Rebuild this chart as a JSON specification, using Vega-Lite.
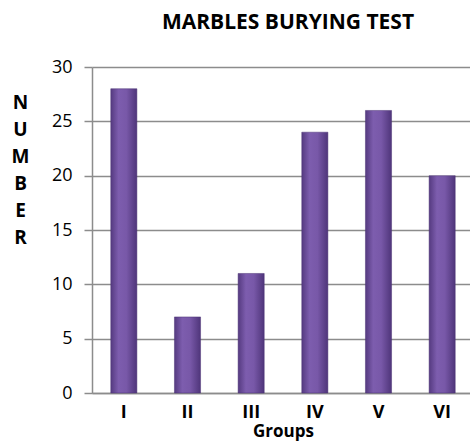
{
  "$schema": "https://vega.github.io/schema/vega-lite/v6.json",
  "width": 382,
  "height": 326,
  "autosize": {"type": "none"},
  "padding": {"left": 92, "top": 67, "right": 0, "bottom": 51},
  "background": "white",
  "title": {
    "text": "MARBLES BURYING TEST",
    "font": "Open Sans",
    "fontSize": 21,
    "fontWeight": "bold",
    "color": "#000000",
    "anchor": "middle",
    "offset": 25,
    "dx": 5
  },
  "data": {
    "values": [
      {"group": "I", "value": 28},
      {"group": "II", "value": 7},
      {"group": "III", "value": 11},
      {"group": "IV", "value": 24},
      {"group": "V", "value": 26},
      {"group": "VI", "value": 20}
    ]
  },
  "mark": {
    "type": "bar",
    "color": {
      "gradient": "linear",
      "x1": 0, "y1": 0, "x2": 1, "y2": 0,
      "stops": [
        {"offset": 0, "color": "#553a80"},
        {"offset": 0.3, "color": "#7d5dae"},
        {"offset": 0.6, "color": "#7858a8"},
        {"offset": 1, "color": "#4f357a"}
      ]
    },
    "stroke": "#4a3275",
    "strokeWidth": 0.5
  },
  "encoding": {
    "x": {
      "field": "group",
      "type": "nominal",
      "sort": null,
      "scale": {"paddingInner": 0.59, "paddingOuter": 0.295},
      "axis": {
        "title": "Groups",
        "titleFont": "Open Sans",
        "titleFontSize": 17,
        "titleFontWeight": "bold",
        "titleColor": "#000000",
        "titlePadding": 2,
        "labelAngle": 0,
        "labelFont": "Open Sans",
        "labelFontSize": 18,
        "labelFontWeight": "bold",
        "labelColor": "#000000",
        "labelPadding": 10,
        "ticks": false,
        "domainColor": "#8c8c8c",
        "domainWidth": 1.5
      }
    },
    "y": {
      "field": "value",
      "type": "quantitative",
      "scale": {"domain": [0, 30]},
      "axis": {
        "values": [0, 5, 10, 15, 20, 25, 30],
        "title": ["N", "U", "M", "B", "E", "R"],
        "titleAngle": 0,
        "titleAlign": "center",
        "titleBaseline": "top",
        "titleX": -72,
        "titleY": 26,
        "titleLineHeight": 27,
        "titleFont": "Open Sans",
        "titleFontSize": 19,
        "titleFontWeight": "bold",
        "titleColor": "#000000",
        "labelFont": "Open Sans",
        "labelFontSize": 18,
        "labelColor": "#000000",
        "labelPadding": 12,
        "tickSize": 8,
        "tickColor": "#8c8c8c",
        "tickWidth": 1.5,
        "domainColor": "#8c8c8c",
        "domainWidth": 1.5,
        "grid": true,
        "gridColor": "#8c8c8c",
        "gridWidth": 1.5
      }
    }
  },
  "config": {
    "view": {"stroke": null}
  }
}
